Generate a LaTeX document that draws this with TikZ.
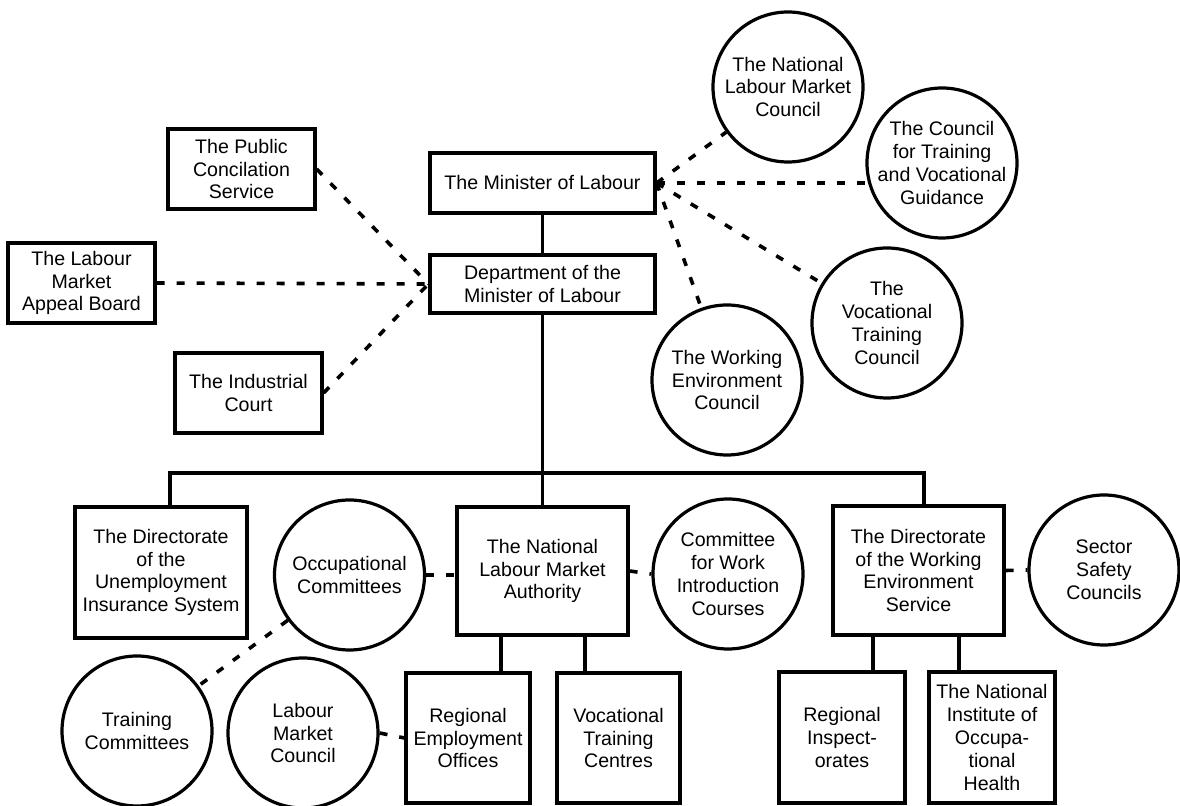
\documentclass[tikz,border=0pt]{standalone}
\usepackage{fontspec}
\setmainfont{Liberation Sans}
\usepackage{tikz}

\begin{document}
\begin{tikzpicture}[x=0.5pt,y=-0.5pt,
		office/.style={draw,line width=1.6pt,align=center,inner sep=1pt,font=\fontsize{9.8}{11.4}\selectfont},
		council/.style={draw,circle,line width=1.6pt,align=center,inner sep=0pt,minimum size=75pt,font=\fontsize{9.8}{11.4}\selectfont},
		tie/.style={line width=1.8pt},
		link/.style={line width=1.8pt,dash pattern=on 4pt off 6pt}]
	\useasboundingbox (0,0) rectangle (1180,806);
	% ministry
	\node[office,minimum width=112.5pt,minimum height=30pt] (minister) at (542.5,183) {The Minister of Labour};
	\node[office,minimum width=112.5pt,minimum height=29pt] (dept) at (542.5,284) {Department of the\\Minister of Labour};
	\node[office,minimum width=73.5pt,minimum height=40pt] (concil) at (241.5,169) {The Public\\Concilation\\Service};
	\node[office,minimum width=73.5pt,minimum height=40pt] (appeal) at (81.5,283) {The Labour\\Market\\Appeal Board};
	\node[office,minimum width=73.5pt,minimum height=40pt] (court) at (248.5,393) {The Industrial\\Court};
	% councils
	\node[council] (nlmc) at (788,87) {The National\\Labour Market\\Council};
	\node[council,inner sep=-2.5pt] (ctvg) at (942,163) {The Council\\for Training\\and Vocational\\Guidance};
	\node[council] (vtc) at (887,323) {The\\Vocational\\Training\\Council};
	\node[council] (wec) at (727,380) {The Working\\Environment\\Council};
	% directorates
	\node[office,minimum width=86pt,minimum height=65.5pt] (unemp) at (161,572.5) {The Directorate\\of the\\Unemployment\\Insurance System};
	\node[office,minimum width=85.5pt,minimum height=64pt] (nlma) at (542.5,571) {The National\\Labour Market\\Authority};
	\node[office,minimum width=85.5pt,minimum height=64.5pt] (dwes) at (918.5,570.5) {The Directorate\\of the Working\\Environment\\Service};
	\node[council] (occ) at (349.5,575) {Occupational\\Committees};
	\node[council] (cwic) at (728,574) {Committee\\for Work\\Introduction\\Courses};
	\node[council] (ssc) at (1104,570) {Sector\\Safety\\Councils};
	% bottom row
	\node[council] (trainc) at (137,731) {Training\\Committees};
	\node[council] (lmc) at (303,733) {Labour\\Market\\Council};
	\node[office,minimum width=62pt,minimum height=65pt] (reo) at (468,738) {Regional\\Employment\\Offices};
	\node[office,minimum width=61.5pt,minimum height=65pt] (vtcentre) at (618.5,738) {Vocational\\Training\\Centres};
	\node[office,minimum width=63pt,minimum height=65.5pt] (ri) at (842,737.5) {Regional\\Inspect-\\orates};
	\node[office,minimum width=63pt,minimum height=65.5pt] (nioh) at (992,737.5) {The National\\Institute of\\Occupa-\\tional\\Health};

	\draw[tie] (minister) -- (dept);
	\draw[tie] (dept) -- (nlma);
	\coordinate (busL) at (170,473);
	\coordinate (busR) at (924,473);
	\draw[tie] (busL |- unemp.north) -- (busL) -- (busR) -- (busR |- dwes.north);
	\foreach \x/\a/\b in {501/nlma/reo,585/nlma/vtcentre,873/dwes/ri,959/dwes/nioh}
		\draw[tie] (\a.south -| \x,0) -- (\b.north -| \x,0);

	\draw[link] (concil.east) -- (dept.west);
	\draw[link] (appeal.east) -- (dept.west);
	\draw[link] (court.east) -- (dept.west);
	\draw[link] (minister.east) -- (nlmc);
	\draw[link] (minister.east) -- (minister.east -| ctvg.west);
	\draw[link] (minister.east) -- (vtc);
	\draw[link] (minister.east) -- (wec);
	\draw[link] (occ.east) -- (occ.east -| nlma.west);
	\draw[link] (nlma.east) -- (cwic.west);
	\draw[link] (dwes.east) -- (ssc.west);
	\draw[link] (occ) -- (trainc);
	\draw[link] (lmc.east) -- (reo.west);
\end{tikzpicture}
\end{document}
